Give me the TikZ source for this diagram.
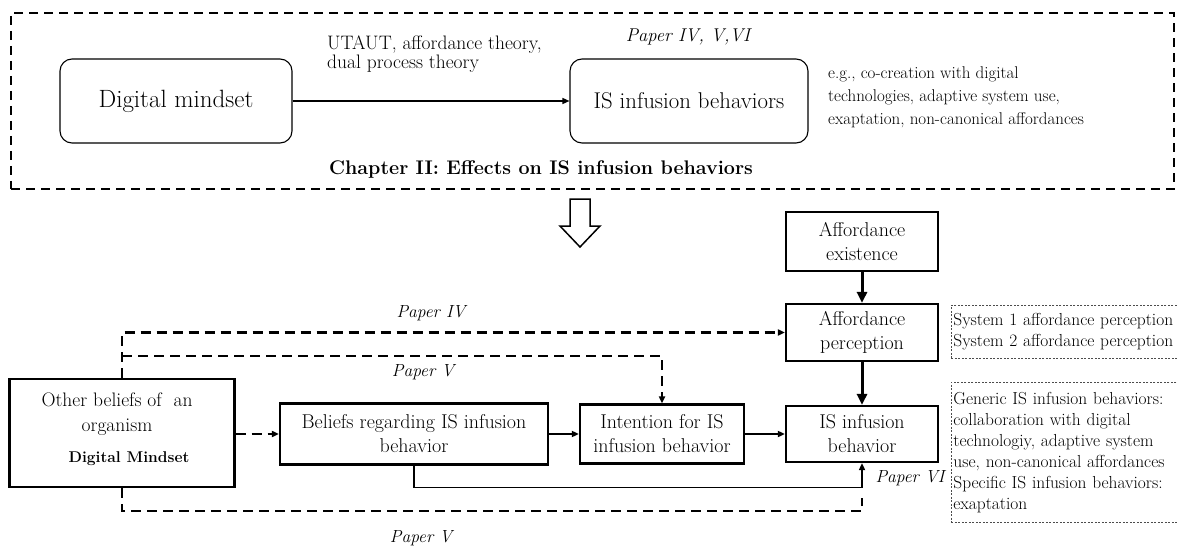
\documentclass[tikz,border=0pt]{standalone}
\usepackage{fontspec}
\usetikzlibrary{arrows.meta}
\begin{document}
\begin{tikzpicture}[x=1pt,y=-1pt,
  rbox/.style={draw, rounded corners=12pt, line width=1.1pt, minimum height=84pt, inner sep=0pt},
  sbox/.style={draw, line width=2.2pt, inner sep=0pt, align=center, font=\fontsize{20}{24}\selectfont},
  note/.style={draw, black!70, dash pattern=on 2pt off 1.5pt, line width=0.8pt, inner xsep=2pt, inner ysep=0pt, align=left, text=black, text width=224pt, font=\fontsize{17.4}{21}\selectfont, anchor=north west},
  lab/.style={font=\fontsize{17.5}{20}\selectfont\itshape, inner sep=0pt},
  txt/.style={font=\fontsize{17}{20}\selectfont, inner sep=0pt, align=left},
  tip/.style={-{Triangle[length=7pt,width=6pt]}},
  arr/.style={tip, line width=1.6pt},
  darr/.style={line width=2.5pt, dash pattern=on 10pt off 6pt},
  bigarr/.style={-{Triangle[length=11pt,width=10pt]}, line width=3pt}
]
\useasboundingbox (0,0) rectangle (1177,548);

% top frame
\node[draw, line width=1.8pt, dash pattern=on 9pt off 6pt, minimum width=1163pt, minimum height=176pt, inner sep=0pt] (frame) at (592.5,101) {};

\node[rbox, minimum width=232pt, font=\fontsize{25}{29}\selectfont] (dm) at (176,101) {Digital mindset};
\node[rbox, minimum width=238pt, font=\fontsize{22.8}{27}\selectfont] (isb) at (689,101) {IS infusion behaviors};
\draw[arr, line width=1.4pt] (dm) -- (isb);
\node[txt, anchor=base west, font=\fontsize{19.5}{19}\selectfont] (theo) at (327,69) {UTAUT, affordance theory,\\dual process theory};
\node[lab, font=\fontsize{18.5}{20}\selectfont\itshape] (p0) at (688,37) {Paper IV, V,VI};
\node[txt, anchor=north west, font=\fontsize{17}{23}\selectfont] (eg) at (828,67) {e.g., co-creation with digital\\technologies, adaptive system use,\\exaptation, non-canonical affordances};
\node[font=\fontsize{19.7}{22}\selectfont\bfseries, inner sep=0pt] (chap) at (541,170) {Chapter II: Effects on IS infusion behaviors};

% hollow arrow
\draw[line width=1.5pt, fill=white] (570,199) -- (590,199) -- (590,226) -- (600,226) -- (580,247) -- (560,226) -- (570,226) -- cycle;

% bottom boxes
\node[sbox, minimum width=225pt, minimum height=108pt] (ob) at (122,433) {};
\node[font=\fontsize{19.5}{25}\selectfont, align=center, inner sep=0pt] (obt) at (117,414) {Other beliefs of \ an\\organism};
\node[font=\fontsize{15.6}{20}\selectfont\bfseries, inner sep=0pt] (obm) at (129,459) {Digital Mindset};
\node[sbox, minimum width=268pt, minimum height=61pt] (bel) at (414,434) {Beliefs regarding IS infusion\\behavior};
\node[sbox, minimum width=164pt, minimum height=59pt] (int) at (662,434) {Intention for IS\\infusion behavior};
\node[sbox, minimum width=152pt, minimum height=56pt] (isib) at (862,434) {IS infusion\\behavior};
\node[sbox, minimum width=152pt, minimum height=57pt] (aper) at (862,332.5) {Affordance\\perception};
\node[sbox, minimum width=152pt, minimum height=59pt] (aex) at (862,241.5) {Affordance\\existence};

\node[note, minimum height=53pt] (n1) at (951,305) {System 1 affordance perception\\System 2 affordance perception};
\node[note, minimum height=140pt] (n2) at (951,382) {Generic IS infusion behaviors:\\collaboration with digital\\technologiy, adaptive system\\use, non-canonical affordances\\Specific IS infusion behaviors:\\exaptation};

% connectors
\draw[bigarr] (aex) -- (aper);
\draw[bigarr] (aper) -- (isib);
\draw[arr] (bel.east) -- (int.west);
\draw[arr] (int.east) -- (isib.west);
\draw[darr, tip] (ob.east |- bel.west) -- (bel.west);
\draw[darr, tip] (ob.north) |- (aper.west);
\coordinate (jv) at (122,356);
\draw[darr, tip] (jv) -| (int.north);
\draw[arr] (bel.south) -- ++(0,22) -| (isib.south);
\coordinate (dend) at (862,498);
\draw[darr] (ob.south) -- ++(0,23) -| (dend);

\node[lab] (p4) at (431,313) {Paper IV};
\node[lab] (p5a) at (423,372) {Paper V};
\node[lab] (p5b) at (421,538) {Paper V};
\node[lab] (p6) at (910,478) {Paper VI};
\end{tikzpicture}
\end{document}
